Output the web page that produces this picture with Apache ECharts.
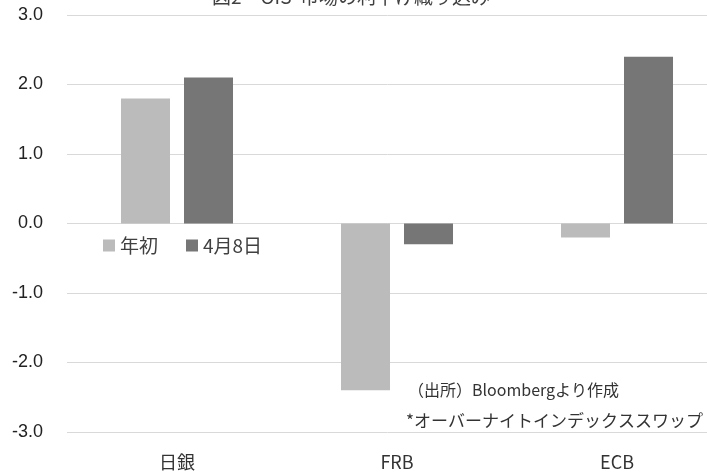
<!DOCTYPE html>
<html>
<head>
<meta charset="UTF-8">
<title>OIS</title>
<script src="https://cdn.jsdelivr.net/npm/echarts@6/dist/echarts.min.js"></script>
<style>
  html, body { margin: 0; padding: 0; background: #fff; }
  #chart { width: 707px; height: 474px; }
</style>
</head>
<body>
<div id="chart"></div>
<script>
// 中銀ごとのカテゴリと値
var categories = ['日銀', 'FRB', 'ECB'];
var startOfYear = [1.8, -2.4, -0.2];   // 年初
var april8 = [2.1, -0.3, 2.4];         // 4月8日
var seriesNames = ['年初', '4月8日'];
var titleText = '図2　OIS*市場の利下げ織り込み';
var notes = ['（出所）Bloombergより作成', '*オーバーナイトインデックススワップ'];

var jpFont = '"Noto Sans CJK JP", sans-serif';

var myChart = echarts.init(document.getElementById('chart'));
var option = {
    animation: false,
    color: ['#bbbbbb', '#767676'],
    legend: {
        left: 98,
        top: 231,
        itemWidth: 12,
        itemHeight: 12,
        itemGap: 28,
        icon: 'rect',
        textStyle: { fontFamily: jpFont, fontSize: 19, color: '#404040' },
        data: seriesNames
    },
    grid: {
        left: 67,
        top: 15,
        width: 660,   // 右端は画面外まで伸びている
        bottom: 42,
        containLabel: false,
        outerBoundsMode: 'none'
    },
    xAxis: {
        type: 'category',
        data: categories,
        position: 'bottom',
        axisLine: { show: false, onZero: false },
        axisTick: { show: false },
        axisLabel: {
            margin: 21,
            fontFamily: jpFont,
            fontSize: 18,
            color: '#333'
        }
    },
    yAxis: {
        type: 'value',
        min: -3,
        max: 3,
        interval: 1,
        axisLine: { show: false },
        axisTick: { show: false },
        splitLine: { lineStyle: { color: '#d9d9d9', width: 1 } },
        axisLabel: {
            margin: 24,
            fontFamily: 'Liberation Sans, Arial, sans-serif',
            fontSize: 18,
            color: '#222',
            formatter: function (v) { return v.toFixed(1); }
        }
    },
    series: [
        {
            name: seriesNames[0],
            type: 'bar',
            data: startOfYear,
            barWidth: 49,
            barGap: '28.6%'
        },
        {
            name: seriesNames[1],
            type: 'bar',
            data: april8,
            barWidth: 49,
            barGap: '28.6%'
        }
    ],
    graphic: [
        {
            // タイトルは上端で切れている
            type: 'text',
            style: {
                x: 351, y: 6,
                text: titleText,
                textAlign: 'center',
                textVerticalAlign: 'bottom',
                font: '19px ' + jpFont,
                fill: '#404040'
            }
        },
        {
            type: 'text',
            style: {
                x: 408, y: 390,
                text: notes[0],
                textVerticalAlign: 'middle',
                font: '16px ' + jpFont,
                fill: '#333'
            }
        },
        {
            type: 'text',
            style: {
                x: 406, y: 421,
                text: notes[1],
                textVerticalAlign: 'middle',
                font: '17px ' + jpFont,
                fill: '#333'
            }
        }
    ]
};
myChart.setOption(option, true);
</script>
</body>
</html>
